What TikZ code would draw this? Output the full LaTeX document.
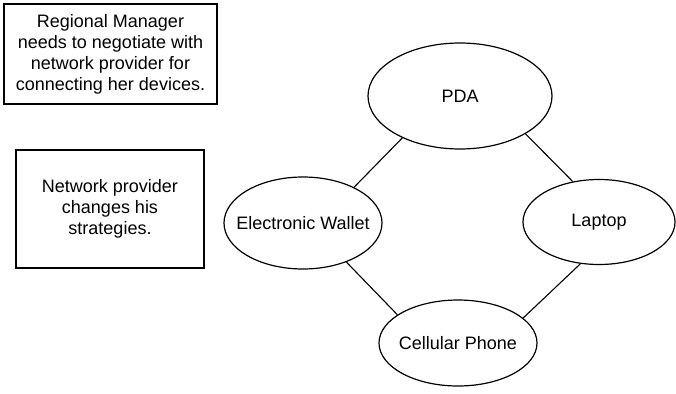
\documentclass[tikz,border=0pt]{standalone}
\usepackage{fontspec}
\setmainfont{Liberation Sans}
\usetikzlibrary{shapes.geometric}
\begin{document}
\begin{tikzpicture}[x=1pt,y=-1pt,
  every node/.style={font=\fontsize{18}{21}\selectfont},
  notebox/.style={draw,line width=1.3pt,align=center,inner sep=0pt},
  device/.style={draw,ellipse,line width=1.2pt,inner sep=0pt,label=center:{#1}},
  link/.style={line width=1.1pt}]
  \useasboundingbox (0,0) rectangle (676,393);
  % text boxes on the left
  \node[notebox,minimum width=213pt,minimum height=100pt] (manager) at (110.5,54)
    {Regional Manager\\needs to negotiate with\\network provider for\\connecting her devices.};
  \node[notebox,minimum width=188pt,minimum height=118pt] (provider) at (110,209)
    {Network provider\\changes his\\strategies.};
  % devices: fixed-size ellipses, names set as centred labels
  \node[device=PDA,minimum width=184pt,minimum height=106pt] (pda) at (460,96) {};
  \node[device=Electronic Wallet,minimum width=158pt,minimum height=92pt] (wallet) at (303,223) {};
  \node[device=Laptop,minimum width=152pt,minimum height=85pt] (laptop) at (599,222) {};
  \node[device=Cellular Phone,minimum width=158pt,minimum height=86pt] (phone) at (458,343) {};
  % links between devices
  \draw[link] (pda.216) -- (wallet.35);
  \draw[link] (pda.330) -- (laptop.123);
  \draw[link] (wallet.318) -- (phone.155);
  \draw[link] (laptop.246) -- (phone.21);
\end{tikzpicture}
\end{document}
